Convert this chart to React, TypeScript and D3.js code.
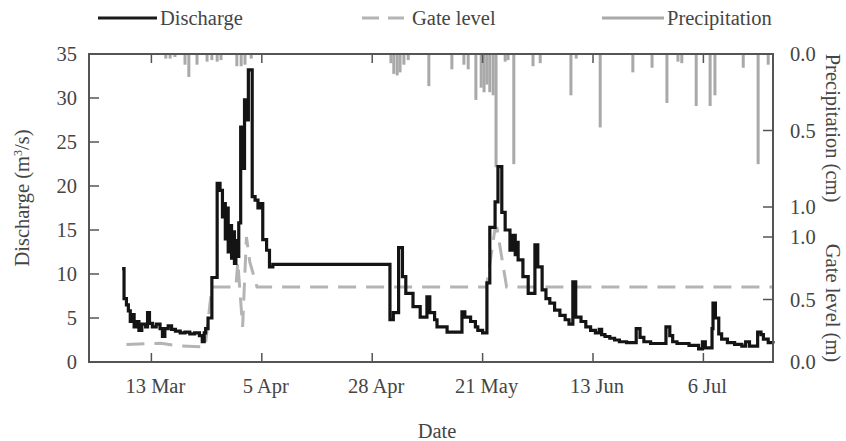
import React from "react";
import * as d3 from "d3";

const width = 846,
  height = 441;
const left = 89,
  right = 773,
  top = 54,
  bottom = 362;

// time is kept as days counted from 28 Feb 2010 (UTC)
const START = Date.UTC(2010, 1, 28);
const DAY = 864e5;
const END_DAY = 142.5;

const tickDays = [13, 36, 59, 82, 105, 128];
const tickLabels = ["13 Mar", "5 Apr", "28 Apr", "21 May", "13 Jun", "6 Jul"];
const dischargeTicks = [0, 5, 10, 15, 20, 25, 30, 35];
const precipTicks = [0, 0.5, 1.0];
const gateTicks = [0, 0.5, 1.0];

// [day, m3/s]
const discharge: [number, number][] = [
  [6.9, 10.6], [7.3, 7.2], [7.8, 6.5], [8.2, 5.8], [8.6, 4.6], [9.0, 5.4], [9.4, 4.0],
  [9.9, 4.6], [10.4, 3.6], [11.0, 4.3], [11.8, 4.0], [12.2, 5.6], [12.6, 4.4], [13.2, 4.0],
  [14.0, 4.3], [14.8, 3.8], [15.3, 2.9], [15.8, 3.8], [16.5, 4.1], [17.2, 3.7], [18.0, 3.5],
  [19.0, 3.3], [20.0, 3.4], [21.0, 3.2], [22.0, 3.3], [23.0, 3.0], [23.6, 2.3], [24.0, 3.3],
  [24.3, 3.8], [24.8, 5.0], [25.6, 9.6], [26.7, 20.3], [27.3, 19.5], [27.8, 16.5], [28.1, 18.0],
  [28.4, 14.0], [28.7, 17.5], [29.0, 12.5], [29.4, 15.5], [29.7, 11.8], [30.0, 14.8], [30.3, 11.2],
  [30.6, 13.8], [30.9, 12.0], [31.2, 15.8], [31.6, 26.7], [32.1, 22.0], [32.4, 29.8], [33.0, 27.5],
  [33.2, 33.2], [34.0, 18.8], [34.6, 18.4], [35.2, 17.5], [35.6, 18.0], [36.2, 13.9], [37.0, 12.7],
  [37.6, 10.8], [38.3, 11.1],
  [62.7, 4.8], [63.4, 5.6], [64.5, 13.0], [65.3, 9.7], [66.0, 7.8], [67.5, 6.3], [69.0, 5.1],
  [70.4, 7.4], [71.0, 5.6], [72.0, 4.8], [72.5, 4.0], [74.6, 3.4], [77.7, 5.7], [78.3, 5.1],
  [79.5, 4.6], [80.5, 4.0], [81.0, 3.6], [82.0, 3.3], [82.9, 9.0], [83.5, 15.3], [84.6, 18.2],
  [85.2, 22.2], [86.0, 17.0], [86.7, 15.0], [87.7, 12.7], [88.3, 14.4], [88.8, 12.2], [89.1, 13.6],
  [89.4, 11.6], [90.4, 9.7], [91.5, 7.8], [92.9, 13.3], [93.5, 10.8], [94.4, 8.2], [95.2, 7.2],
  [96.0, 6.7], [97.0, 5.9], [98.1, 5.3], [99.2, 4.8], [100.0, 4.3], [100.8, 9.1], [101.4, 5.1],
  [102.5, 4.6], [103.5, 4.0], [104.5, 3.6], [105.5, 3.3], [106.3, 3.7], [106.8, 3.1], [107.5, 2.9],
  [108.5, 2.7], [109.5, 2.5], [110.5, 2.3], [112.0, 2.2], [114.0, 3.8], [114.8, 2.8], [115.6, 2.3],
  [117.0, 2.1], [120.2, 4.0], [121.0, 3.0], [121.6, 2.3], [122.5, 2.1], [125.0, 1.9], [127.0, 1.5],
  [127.8, 2.3], [128.4, 1.6], [129.8, 3.8], [130.0, 6.7], [130.5, 5.0], [131.2, 3.2], [131.8, 2.6],
  [133.0, 2.2], [134.5, 2.0], [136.0, 1.8], [136.8, 2.3], [137.6, 1.8], [139.3, 3.4], [140.0, 3.1],
  [140.5, 2.6], [141.5, 2.2], [142.5, 2.1],
];

// [day, m]
const gateLevel: [number, number][] = [
  [7.8, 0.14], [15.0, 0.15], [18.5, 0.13], [24.2, 0.12], [25.6, 0.6], [30.6, 0.6],
  [31.0, 0.8], [32.0, 0.28], [32.8, 1.0], [33.5, 0.8], [35.0, 0.6], [82.8, 0.6],
  [84.6, 1.07], [85.0, 1.07], [87.0, 0.6], [142.5, 0.6],
];

// [day, cm]
const precipitation: [number, number][] = [
  [16.0, 0.03], [16.9, 0.03], [17.9, 0.02], [20.0, 0.07], [20.8, 0.15], [22.5, 0.07],
  [24.6, 0.05], [25.6, 0.04], [26.7, 0.05], [27.5, 0.04], [30.8, 0.08], [31.7, 0.08],
  [32.5, 0.07], [33.8, 0.03], [62.9, 0.06], [63.5, 0.13], [64.2, 0.14], [64.8, 0.12],
  [65.6, 0.07], [66.5, 0.04], [70.8, 0.21], [75.6, 0.1], [78.1, 0.07], [79.0, 0.1],
  [80.6, 0.3], [81.7, 0.22], [82.3, 0.25], [82.9, 0.2], [83.5, 0.25], [84.2, 0.27],
  [84.8, 0.74], [86.7, 0.05], [87.3, 0.04], [88.5, 0.72], [92.5, 0.08], [94.0, 0.06],
  [100.4, 0.27], [101.5, 0.03], [106.5, 0.48], [113.3, 0.12], [117.3, 0.09], [120.4, 0.32],
  [122.7, 0.05], [123.5, 0.06], [126.5, 0.34], [129.4, 0.34], [130.4, 0.27], [136.3, 0.09],
  [139.4, 0.72], [141.5, 0.07],
];

const FONT = "'Liberation Serif', 'Times New Roman', serif";
const TEXT = "#454545";
const AXIS = "#555";
const GRAY = "#a9a9a9";
const GATE = "#b4b4b4";

const toDate = (d: number) => new Date(START + d * DAY);

const App = () => {
  const x = d3.scaleUtc().domain([toDate(0), toDate(END_DAY)]).range([left, right]);
  const yQ = d3.scaleLinear().domain([0, 35]).range([bottom, top]);
  const yP = d3.scaleLinear().domain([0, 1]).range([top, top + 153]);
  const yG = d3.scaleLinear().domain([0, 1]).range([bottom, bottom - 125]);

  const dischargeLine = d3
    .line<[number, number]>()
    .x((d) => x(toDate(d[0])))
    .y((d) => yQ(d[1]))
    .curve(d3.curveStepAfter);

  const gateLine = d3
    .line<[number, number]>()
    .x((d) => x(toDate(d[0])))
    .y((d) => yG(d[1]));

  return (
    <svg
      width={width}
      height={height}
      style={{ position: "absolute", left: 0, top: 0, background: "#fff" }}
      fontFamily={FONT}
      fontSize={20.5}
      fill={TEXT}
    >
      {/* legend */}
      <g>
        <line x1={98} x2={157} y1={18} y2={18} stroke="#1a1a1a" strokeWidth={3} />
        <text x={160} y={25}>Discharge</text>
        <line x1={362} x2={404} y1={18} y2={18} stroke={GATE} strokeWidth={3} strokeDasharray="17 9" />
        <text x={412} y={25}>Gate level</text>
        <line x1={602} x2={664} y1={18} y2={18} stroke={GRAY} strokeWidth={3} />
        <text x={667} y={25}>Precipitation</text>
      </g>

      {/* precipitation bars hanging from the top */}
      <g fill={GRAY}>
        {precipitation.map((d, i) => (
          <rect
            key={i}
            x={x(toDate(d[0])) - 1.5}
            y={top}
            width={3}
            height={yP(d[1]) - top}
          />
        ))}
      </g>

      <path
        d={gateLine(gateLevel) || ""}
        fill="none"
        stroke={GATE}
        strokeWidth={3}
        strokeDasharray="18 10"
      />

      <path
        d={dischargeLine(discharge) || ""}
        fill="none"
        stroke="#141414"
        strokeWidth={3.2}
        strokeLinejoin="miter"
      />

      {/* frame */}
      <rect
        x={left}
        y={top}
        width={right - left}
        height={bottom - top}
        fill="none"
        stroke={AXIS}
        strokeWidth={2}
      />

      {/* x ticks, top and bottom */}
      <g stroke={AXIS} strokeWidth={1.5}>
        {tickDays.map((d, i) => {
          const px = x(toDate(d));
          return (
            <g key={i}>
              <line x1={px} x2={px} y1={bottom} y2={bottom - 9} />
              <line x1={px} x2={px} y1={top} y2={top + 9} />
            </g>
          );
        })}
      </g>
      <g textAnchor="middle">
        {tickDays.map((d, i) => (
          <text key={i} x={x(toDate(d)) + 4} y={393}>
            {tickLabels[i]}
          </text>
        ))}
        <text x={(left + right) / 2 + 6} y={438}>Date</text>
      </g>

      {/* left axis */}
      <g stroke={AXIS} strokeWidth={1.5}>
        {dischargeTicks.map((t) => (
          <line key={t} x1={left} x2={left + 10} y1={yQ(t)} y2={yQ(t)} />
        ))}
      </g>
      <g textAnchor="end">
        {dischargeTicks.map((t) => (
          <text key={t} x={77} y={yQ(t) + 7}>
            {t}
          </text>
        ))}
      </g>
      <text transform={`translate(29,${(top + bottom) / 2 - 10}) rotate(-90)`} textAnchor="middle">
        Discharge (m<tspan dy={-7} fontSize={12}>3</tspan>
        <tspan dy={7}>/s)</tspan>
      </text>

      {/* right axes */}
      <g stroke={AXIS} strokeWidth={1.5}>
        {precipTicks.map((t) => (
          <line key={"p" + t} x1={right - 10} x2={right} y1={yP(t)} y2={yP(t)} />
        ))}
        {gateTicks.map((t) => (
          <line key={"g" + t} x1={right - 10} x2={right} y1={yG(t)} y2={yG(t)} />
        ))}
      </g>
      <g>
        {precipTicks.map((t) => (
          <text key={"p" + t} x={790} y={yP(t) + 7}>
            {d3.format(".1f")(t)}
          </text>
        ))}
        {gateTicks.map((t) => (
          <text key={"g" + t} x={790} y={yG(t) + 7}>
            {d3.format(".1f")(t)}
          </text>
        ))}
      </g>
      <text transform={`translate(826,128) rotate(90)`} textAnchor="middle">
        Precipitation (cm)
      </text>
      <text transform={`translate(826,303) rotate(90)`} textAnchor="middle">
        Gate level (m)
      </text>
    </svg>
  );
};

export default App;
